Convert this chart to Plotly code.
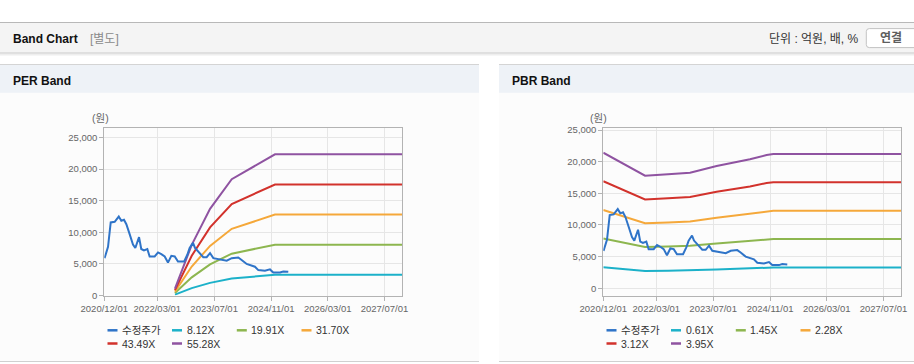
import plotly.graph_objects as go

W, H = 914, 364

# ---------------- data ----------------
price_dates = [
    "2020-12-03", "2021-01-02", "2021-01-25", "2021-02-28", "2021-04-04", "2021-04-26",
    "2021-05-19", "2021-06-08", "2021-07-07", "2021-08-04", "2021-08-24", "2021-09-10",
    "2021-09-25", "2021-10-14", "2021-11-06", "2021-12-05", "2021-12-25", "2022-02-06",
    "2022-03-07", "2022-04-04", "2022-05-03", "2022-05-31", "2022-06-29", "2022-07-28",
    "2022-08-25", "2022-10-16", "2022-11-13", "2022-12-03", "2023-01-01", "2023-01-18",
    "2023-02-15", "2023-03-30", "2023-04-28", "2023-05-27", "2023-06-24", "2023-08-20",
    "2023-10-17", "2023-11-29", "2024-01-24", "2024-02-22", "2024-04-05", "2024-06-15",
    "2024-07-14", "2024-09-09", "2024-10-22", "2024-11-19", "2025-01-16", "2025-02-13",
    "2025-03-28",
]
price_values = [
    5900, 7700, 11560, 11670, 12500, 11830,
    11990, 11290, 9680, 8070, 7530, 8330,
    9250, 7370, 7150, 7370, 6180, 6180,
    6830, 6560, 6180, 5220, 6290, 6180,
    5380, 5380, 6450, 7530, 8330, 7530,
    6990, 6080, 6080, 6720, 5920, 5760,
    5530, 5920, 6030, 5640, 5000, 4570,
    4030, 3920, 4140, 3660, 3660, 3820,
    3770,
]

eps_dates = ["2022-07-30", "2022-12-21", "2023-05-27", "2023-11-29", "2024-12-04", "2027-12-01"]
eps_values = [20, 145, 248, 333, 404, 404]
per_multiples = [8.12, 19.91, 31.70, 43.49, 55.28]
per_labels = ["8.12X", "19.91X", "31.70X", "43.49X", "55.28X"]

bps_dates = ["2020-12-01", "2021-11-24", "2022-06-09", "2022-12-15", "2023-07-31",
             "2024-05-12", "2024-10-02", "2024-11-28", "2027-12-01"]
bps_values = [5420, 4500, 4557, 4623, 4889, 5157, 5330, 5365, 5365]
pbr_multiples = [0.61, 1.45, 2.28, 3.12, 3.95]
pbr_labels = ["0.61X", "1.45X", "2.28X", "3.12X", "3.95X"]

x_tickvals = ["2020-12-01", "2022-03-01", "2023-07-01", "2024-11-01", "2026-03-01", "2027-07-01"]
x_ticktext = ["2020/12/01", "2022/03/01", "2023/07/01", "2024/11/01", "2026/03/01", "2027/07/01"]
y_tickvals = [0, 5000, 10000, 15000, 20000, 25000]

price_name = "수정주가"
price_color = "#2f74c8"
band_colors = ["#1cb1c9", "#8db64f", "#f5a83a", "#d2322c", "#8f53a1"]

FONT = "Liberation Sans, Arial, Noto Sans CJK KR, sans-serif"


def px(x):
    return x / W


def py(y):
    return 1 - y / H


fig = go.Figure()

# PER chart traces
for m, c, lab in zip(per_multiples, band_colors, per_labels):
    fig.add_trace(go.Scatter(x=eps_dates, y=[m * v for v in eps_values], mode="lines",
                             line=dict(color=c, width=2), name=lab, showlegend=False,
                             xaxis="x", yaxis="y"))
fig.add_trace(go.Scatter(x=price_dates, y=price_values, mode="lines",
                         line=dict(color=price_color, width=2), name=price_name,
                         showlegend=False, xaxis="x", yaxis="y"))

# PBR chart traces
for m, c, lab in zip(pbr_multiples, band_colors, pbr_labels):
    fig.add_trace(go.Scatter(x=bps_dates, y=[m * v for v in bps_values], mode="lines",
                             line=dict(color=c, width=2), name=lab, showlegend=False,
                             xaxis="x2", yaxis="y2"))
fig.add_trace(go.Scatter(x=price_dates, y=price_values, mode="lines",
                         line=dict(color=price_color, width=2), name=price_name,
                         showlegend=False, xaxis="x2", yaxis="y2"))

axis_common = dict(showline=True, linecolor="#b3b3b3", linewidth=1, mirror=True,
                   showgrid=True, gridcolor="#e6e6e6", gridwidth=1, zeroline=False,
                   ticks="outside", ticklen=4, tickcolor="#b3b3b3", automargin=False,
                   tickfont=dict(family=FONT, size=9.5, color="#666666"))

xa = dict(axis_common, type="date", range=["2020-12-01", "2027-12-01"],
          tickmode="array", tickvals=x_tickvals, ticktext=x_ticktext, tickangle=0)
ya = dict(axis_common, tickmode="array", tickvals=y_tickvals, tickformat=",")

y_dom = [py(295.6), py(128.3)]
per_x0, per_x1 = 104.3, 402.3
pbr_x0, pbr_x1 = 603.3, 901.3

fig.update_layout(
    width=W, height=H, autosize=False,
    margin=dict(l=0, r=0, t=0, b=0, pad=0, autoexpand=False),
    paper_bgcolor="white", plot_bgcolor="rgba(0,0,0,0)",
    showlegend=False, hovermode=False,
    xaxis=dict(xa, domain=[px(per_x0), px(per_x1)], anchor="y"),
    yaxis=dict(ya, domain=y_dom, anchor="x", range=[0, 26450]),
    xaxis2=dict(xa, domain=[px(pbr_x0), px(pbr_x1)], anchor="y2"),
    yaxis2=dict(ya, domain=y_dom, anchor="x2", range=[-1160, 25270]),
)

shapes = []


def rect(x0, y0, x1, y1, fill, line=None, layer="below"):
    shapes.append(dict(type="rect", xref="paper", yref="paper",
                       x0=px(x0), x1=px(x1), y0=py(y1), y1=py(y0),
                       fillcolor=fill, line=dict(width=0) if line is None else line,
                       layer=layer))


def hline(x0, x1, y, color, width=1, layer="below"):
    shapes.append(dict(type="line", xref="paper", yref="paper",
                       x0=px(x0), x1=px(x1), y0=py(y), y1=py(y),
                       line=dict(color=color, width=width), layer=layer))


# page header
hline(0, W, 22.5, "#b8b8b8")
rect(0, 23, W, 52.5, "#f4f4f4")
hline(0, W, 53, "#c4c4c4")
hline(0, W, 54, "#dedede")
hline(0, W, 55, "#eeeeee")

# button (rounded)
bx0, bx1, by0, by1, r = 866.3, 925, 28.6, 47.6, 3
path = (f"M {px(bx0 + r)},{py(by0)} L {px(bx1)},{py(by0)} L {px(bx1)},{py(by1)} "
        f"L {px(bx0 + r)},{py(by1)} Q {px(bx0)},{py(by1)} {px(bx0)},{py(by1 - r)} "
        f"L {px(bx0)},{py(by0 + r)} Q {px(bx0)},{py(by0)} {px(bx0 + r)},{py(by0)} Z")
shapes.append(dict(type="path", xref="paper", yref="paper", path=path,
                   fillcolor="white", line=dict(color="#c2c2c2", width=1), layer="below"))

# panels
for x0, x1 in [(0, 479), (499, W)]:
    rect(x0, 64, x1, 362, "#fcfcfc")
    rect(x0, 65, x1, 92.7, "#eef2f7")
    hline(x0, x1, 64.5, "#d4d4d4")
    hline(x0, x1, 361.5, "#d0d0d0")

annotations = []


def text(x, y, s, size, color, bold=False, anchor="left"):
    annotations.append(dict(xref="paper", yref="paper", x=px(x), y=py(y),
                            xanchor=anchor, yanchor="middle", showarrow=False,
                            text=f"<b>{s}</b>" if bold else s,
                            font=dict(family=FONT, size=size, color=color)))


text(10.7, 38.8, "Band Chart", 12, "#111111", bold=True)
text(87.7, 38.8, "[별도]", 12, "#8a8a8a")
text(861, 38.8, "단위 : 억원, 배, %", 12, "#333333", anchor="right")
text(891.3, 38.5, "연결", 12, "#5e5e5e", bold=True, anchor="center")

text(10.7, 80.5, "PER Band", 12, "#111111", bold=True)
text(509.7, 80.5, "PBR Band", 12, "#111111", bold=True)

text(110.5, 118.3, "(원)", 10.5, "#666666", anchor="right")
text(609, 118.3, "(원)", 10.5, "#666666", anchor="right")

# legends (manual)
col_off = [3.2, 67.7, 132.5, 197.2]
row_y = [330.3, 343.5]


def legend(plot_x0, labels, colors):
    for i, (lab, col) in enumerate(zip(labels, colors)):
        rr, cc = divmod(i, 4)
        sx = plot_x0 + col_off[cc]
        yy = row_y[rr]
        hline(sx, sx + 10, yy, col, width=2.5, layer="above")
        text(sx + 12.5, yy, lab, 10.5, "#333333")


legend(per_x0, [price_name] + per_labels, [price_color] + band_colors)
legend(pbr_x0, [price_name] + pbr_labels, [price_color] + band_colors)

fig.update_layout(shapes=shapes, annotations=annotations)
fig.write_html(
    "out.html",
    config={"displayModeBar": False, "staticPlot": True},
    post_script="document.body.style.margin='0';document.body.style.overflow='hidden';",
)
